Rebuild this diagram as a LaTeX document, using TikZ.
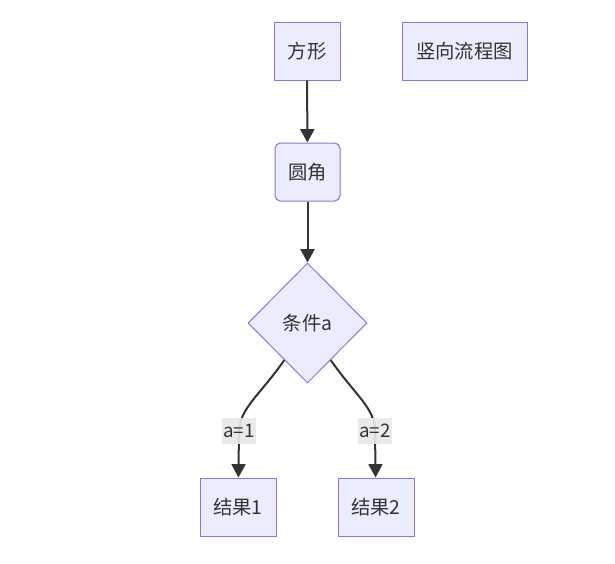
\documentclass[tikz,border=0pt]{standalone}
\usepackage{fontspec}
\setmainfont{Noto Sans CJK SC}
\usetikzlibrary{shapes.geometric,arrows.meta}
\definecolor{nodefill}{HTML}{ECECFF}
\definecolor{nodeline}{HTML}{9370DB}
\definecolor{edgecol}{HTML}{333333}
\definecolor{labfill}{HTML}{E8E8E8}
\begin{document}
\begin{tikzpicture}[x=0.75pt,y=-0.75pt,
  every node/.style={font=\fontsize{14.5}{17}\selectfont, text=edgecol},
  boxnode/.style={draw=nodeline, fill=nodefill, line width=0.75pt, inner sep=0pt, minimum height=58*0.75pt},
  dianode/.style={draw=nodeline, fill=nodefill, line width=0.75pt, diamond, inner sep=0pt, minimum width=119*0.75pt, minimum height=120*0.75pt},
  arr/.style={draw=edgecol, line width=1.5pt, -{Triangle[length=10pt,width=10.5pt]}},
  lab/.style={fill=labfill, fill opacity=0.92, text opacity=1, inner xsep=1pt, inner ysep=4.5pt, font=\fontsize{14}{16}\selectfont}]
\useasboundingbox (0,0) rectangle (615,564);
\node[boxnode, minimum width=66*0.75pt] (sq) at (307,51) {方形};
\node[boxnode, minimum width=125*0.75pt] (title) at (464.5,51) {竖向流程图};
\node[boxnode, minimum width=65*0.75pt, rounded corners=4pt] (rd) at (307.5,172) {圆角};
\node[dianode] (dia) at (307.5,323) {条件a};
\node[boxnode, minimum width=76*0.75pt] (r1) at (238,507) {结果1};
\node[boxnode, minimum width=76*0.75pt] (r2) at (376,507) {结果2};
\coordinate (c1) at (239,431);
\coordinate (c2) at (375,431);
\draw[arr] (sq) -- (rd);
\draw[arr] (rd) -- (dia);
\draw[arr] (dia.-122) .. controls (260,395) and (240,408) .. (c1) -- (r1);
\draw[arr] (dia.-58) .. controls (355,395) and (375,408) .. (c2) -- (r2);
\node[lab] (l1) at (c1) {a=1};
\node[lab] (l2) at (c2) {a=2};
\end{tikzpicture}
\end{document}
